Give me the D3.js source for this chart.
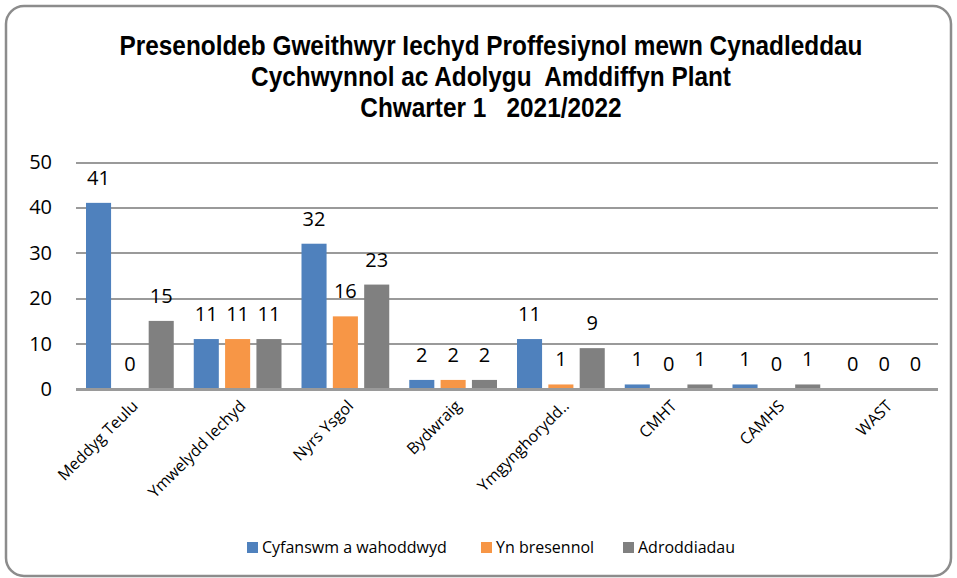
<!DOCTYPE html>
<head>
  <meta charset="utf-8">
  <script src="https://cdn.jsdelivr.net/npm/d3@7"></script>
  <style>
    body { margin: 0; background: #fff; }
    text { font-family: "Open Sans", sans-serif; fill: #000; }
    text.title {
      font-family: "Liberation Sans", Arial, sans-serif;
      font-size: 28px;
      font-weight: 700;
      text-anchor: middle;
    }
    .yAxis .tick text { font-size: 20px; }
    .xAxis .tick text { font-size: 16px; }
    text.valueLabel { font-size: 20px; text-anchor: middle; }
    text.legend { font-size: 16px; }
    .grid line { stroke: #9a9a9a; stroke-width: 2; shape-rendering: crispEdges; }
    path.domain { display: none; }
  </style>
</head>

<body>
  <svg width="957" height="578"></svg>
  <script>
    // data
    const categories = ["Meddyg Teulu", "Ymwelydd Iechyd", "Nyrs Ysgol", "Bydwraig",
      "Ymgynghorydd..", "CMHT", "CAMHS", "WAST"];
    const seriesNames = ["Cyfanswm a wahoddwyd", "Yn bresennol", "Adroddiadau"];
    const invited = [41, 11, 32, 2, 11, 1, 1, 0];
    const present = [0, 11, 16, 2, 1, 0, 0, 0];
    const reports = [15, 11, 23, 2, 9, 1, 1, 0];
    const yTicks = [0, 10, 20, 30, 40, 50];
    const titleLines = ["Presenoldeb Gweithwyr Iechyd Proffesiynol mewn Cynadleddau",
      "Cychwynnol ac Adolygu  Amddiffyn Plant", "Chwarter 1   2021/2022"];

    const colors = ["#4f81bd", "#f79646", "#808080"];
    const seriesValues = [invited, present, reports];

    const svg = d3.select("svg");
    const margin = { top: 162, right: 19, bottom: 189, left: 76 };
    const width = 957, height = 578;

    // outer frame
    svg.append("rect")
      .attr("x", 6).attr("y", 6)
      .attr("width", width - 12).attr("height", height - 8)
      .attr("rx", 18)
      .attr("fill", "#fff")
      .attr("stroke", "#8c8c8c")
      .attr("stroke-width", 2.5);

    // title (condensed like the original narrow face)
    svg.selectAll("text.title")
      .data(titleLines)
      .enter()
      .append("text")
      .attr("class", "title")
      .attr("transform", (d, i) => `translate(491,${55 + i * 31}) scale(0.87,1)`)
      .style("white-space", "pre")
      .text(d => d);

    const x = d3.scaleBand()
      .domain(categories)
      .range([margin.left, width - margin.right]);

    const xs = d3.scaleBand()
      .domain(seriesNames)
      .range([10, x.bandwidth() - 10])
      .paddingInner(0.2);

    const y = d3.scaleLinear()
      .domain([0, 50])
      .range([height - margin.bottom, margin.top]);

    // y labels
    svg.append("g")
      .attr("class", "yAxis")
      .attr("transform", `translate(${margin.left},0)`)
      .call(d3.axisLeft(y).tickValues(yTicks).tickSize(0).tickPadding(24));

    // gridlines
    svg.append("g")
      .attr("class", "grid")
      .attr("transform", `translate(${margin.left},0)`)
      .call(d3.axisLeft(y).tickValues(yTicks).tickSize(-(width - margin.left - margin.right)).tickFormat(""));

    // bars
    const groups = svg.selectAll("g.cat")
      .data(categories)
      .enter()
      .append("g")
      .attr("class", "cat")
      .attr("transform", d => `translate(${x(d)},0)`);

    const cells = groups.selectAll("g.cell")
      .data((d, i) => seriesNames.map((s, j) => ({ series: s, value: seriesValues[j][i], color: colors[j] })))
      .enter()
      .append("g")
      .attr("class", "cell");

    cells.append("rect")
      .attr("x", d => xs(d.series))
      .attr("y", d => y(d.value))
      .attr("width", xs.bandwidth())
      .attr("height", d => y(0) - y(d.value))
      .attr("fill", d => d.color);

    cells.append("text")
      .attr("class", "valueLabel")
      .attr("x", d => xs(d.series) + xs.bandwidth() / 2)
      .attr("y", d => y(d.value) - 18)
      .text(d => d.value);

    // baseline drawn over the bars
    svg.append("line")
      .attr("x1", margin.left).attr("x2", width - margin.right)
      .attr("y1", y(0)).attr("y2", y(0))
      .attr("stroke", "#9a9a9a").attr("stroke-width", 2)
      .attr("shape-rendering", "crispEdges");

    // x labels, rotated
    svg.append("g")
      .attr("class", "xAxis")
      .attr("transform", `translate(0,${y(0)})`)
      .call(d3.axisBottom(x).tickSize(0))
      .selectAll(".tick text")
      .attr("text-anchor", "end")
      .attr("y", 0)
      .attr("dy", 0)
      .attr("transform", "translate(9,18) rotate(-45)");

    // legend
    const legendX = [247, 481, 623];
    const legend = svg.selectAll("g.legendItem")
      .data(seriesNames)
      .enter()
      .append("g")
      .attr("class", "legendItem")
      .attr("transform", (d, i) => `translate(${legendX[i]},542)`);

    legend.append("rect")
      .attr("width", 11).attr("height", 11)
      .attr("fill", (d, i) => colors[i]);

    legend.append("text")
      .attr("class", "legend")
      .attr("x", 15)
      .attr("y", 11)
      .text(d => d);
  </script>
</body>
